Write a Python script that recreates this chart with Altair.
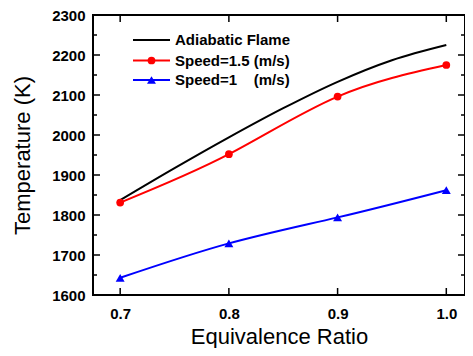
import altair as alt
import pandas as pd

# ---- data ----
phi_adiabatic = [0.70, 0.75, 0.80, 0.85, 0.90, 0.95, 1.00]
temp_adiabatic = [1837, 1917, 1994, 2067, 2133, 2187, 2225]

phi_points = [0.7, 0.8, 0.9, 1.0]
temp_speed15 = [1831, 1952, 2096, 2175]
temp_speed1 = [1643, 1729, 1794, 1862]

legend_labels = ["Adiabatic Flame", "Speed=1.5 (m/s)", "Speed=1\u00a0\u00a0\u00a0\u00a0(m/s)"]
legend_colors = ["#000000", "#ff0000", "#0000ff"]
legend_shapes = [None, "circle", "triangle-up"]
legend_sizes = [0, 60, 80]

x_ticks = [0.7, 0.8, 0.9, 1.0]
y_major = [1600, 1700, 1800, 1900, 2000, 2100, 2200, 2300]
y_minor = [1650, 1750, 1850, 1950, 2050, 2150, 2250]

W, H = 372, 280
FONT = "Liberation Sans"

xscale = alt.Scale(domain=[0.675, 1.0172], nice=False, zero=False)
yscale = alt.Scale(domain=[1600, 2300], nice=False, zero=False)

df_ad = pd.DataFrame({"phi": phi_adiabatic, "T": temp_adiabatic})
df_15 = pd.DataFrame({"phi": phi_points, "T": temp_speed15})
df_1 = pd.DataFrame({"phi": phi_points, "T": temp_speed1})

x_axis = alt.Axis(title="Equivalence Ratio", values=x_ticks, format=".1f", ticks=False,
                  domain=False, grid=False, labelFont=FONT, labelFontSize=15,
                  labelFontWeight="bold", labelColor="black", labelPadding=11,
                  titleFont=FONT, titleFontSize=22, titleFontWeight="normal",
                  titleColor="black", titlePadding=5)
y_axis = alt.Axis(title="Temperature (K)", values=y_major, format="d", ticks=False, domain=False,
                  grid=False, labelFont=FONT, labelFontSize=15, labelFontWeight="bold",
                  labelColor="black", labelPadding=8, titleFont=FONT, titleFontSize=22,
                  titleFontWeight="normal", titleColor="black", titlePadding=17)

X = alt.X("phi:Q", scale=xscale, axis=x_axis)
Y = alt.Y("T:Q", scale=yscale, axis=y_axis)

layers = [alt.Chart(df_ad).mark_line(color="black", strokeWidth=2, interpolate="monotone").encode(x=X, y=Y)]

def series(df, color, shape, size):
    line = alt.Chart(df).mark_line(color=color, strokeWidth=2, interpolate="natural").encode(x=X, y=Y)
    pts = alt.Chart(df).mark_point(color=color, fill=color, filled=True, opacity=1,
                                   shape=shape, size=size).encode(x=X, y=Y)
    return [line, pts]

layers += series(df_15, "#ff0000", "circle", 60)
layers += series(df_1, "#0000ff", "triangle-up", 80)

# inward ticks (tick values through the chart's scales)
df_ymaj = pd.DataFrame({"T": y_major})
df_ymin = pd.DataFrame({"T": y_minor})
df_xmaj = pd.DataFrame({"phi": x_ticks})
for dfy, ln in [(df_ymaj, 7), (df_ymin, 4)]:
    layers.append(alt.Chart(dfy).mark_rule(color="black", strokeWidth=1.5).encode(
        y=Y, x=alt.value(0), x2=alt.value(ln)))
    layers.append(alt.Chart(dfy).mark_rule(color="black", strokeWidth=1.5).encode(
        y=Y, x=alt.value(W - ln), x2=alt.value(W)))
layers.append(alt.Chart(df_xmaj).mark_rule(color="black", strokeWidth=1.5).encode(
    x=X, y=alt.value(0), y2=alt.value(7)))
layers.append(alt.Chart(df_xmaj).mark_rule(color="black", strokeWidth=1.5).encode(
    x=X, y=alt.value(H - 7), y2=alt.value(H)))

# legend (drawn inside plot, top-left)
row_y = [25, 45.5, 65]
dummy = pd.DataFrame({"a": [0]})
for lab, col, shp, sz, yy in zip(legend_labels, legend_colors, legend_shapes, legend_sizes, row_y):
    layers.append(alt.Chart(dummy).mark_rule(color=col, strokeWidth=2).encode(
        x=alt.value(40), x2=alt.value(77), y=alt.value(yy)))
    if shp:
        layers.append(alt.Chart(dummy).mark_point(color=col, fill=col, filled=True, opacity=1,
                                                  shape=shp, size=sz).encode(
            x=alt.value(58.5), y=alt.value(yy)))
    layers.append(alt.Chart(dummy).mark_text(text=lab, font=FONT, fontSize=15, fontWeight="bold",
                                             color="black", align="left", baseline="middle").encode(
        x=alt.value(82), y=alt.value(yy)))

chart = alt.layer(*layers).properties(
    width=W, height=H,
    autosize=alt.AutoSizeParams(type="none"),
    padding={"left": 85, "top": 7, "right": 0, "bottom": 53},
    background="white",
).configure_view(stroke="black", strokeWidth=2)

chart.save("out.html", embed_options={"renderer": "svg", "actions": False})
